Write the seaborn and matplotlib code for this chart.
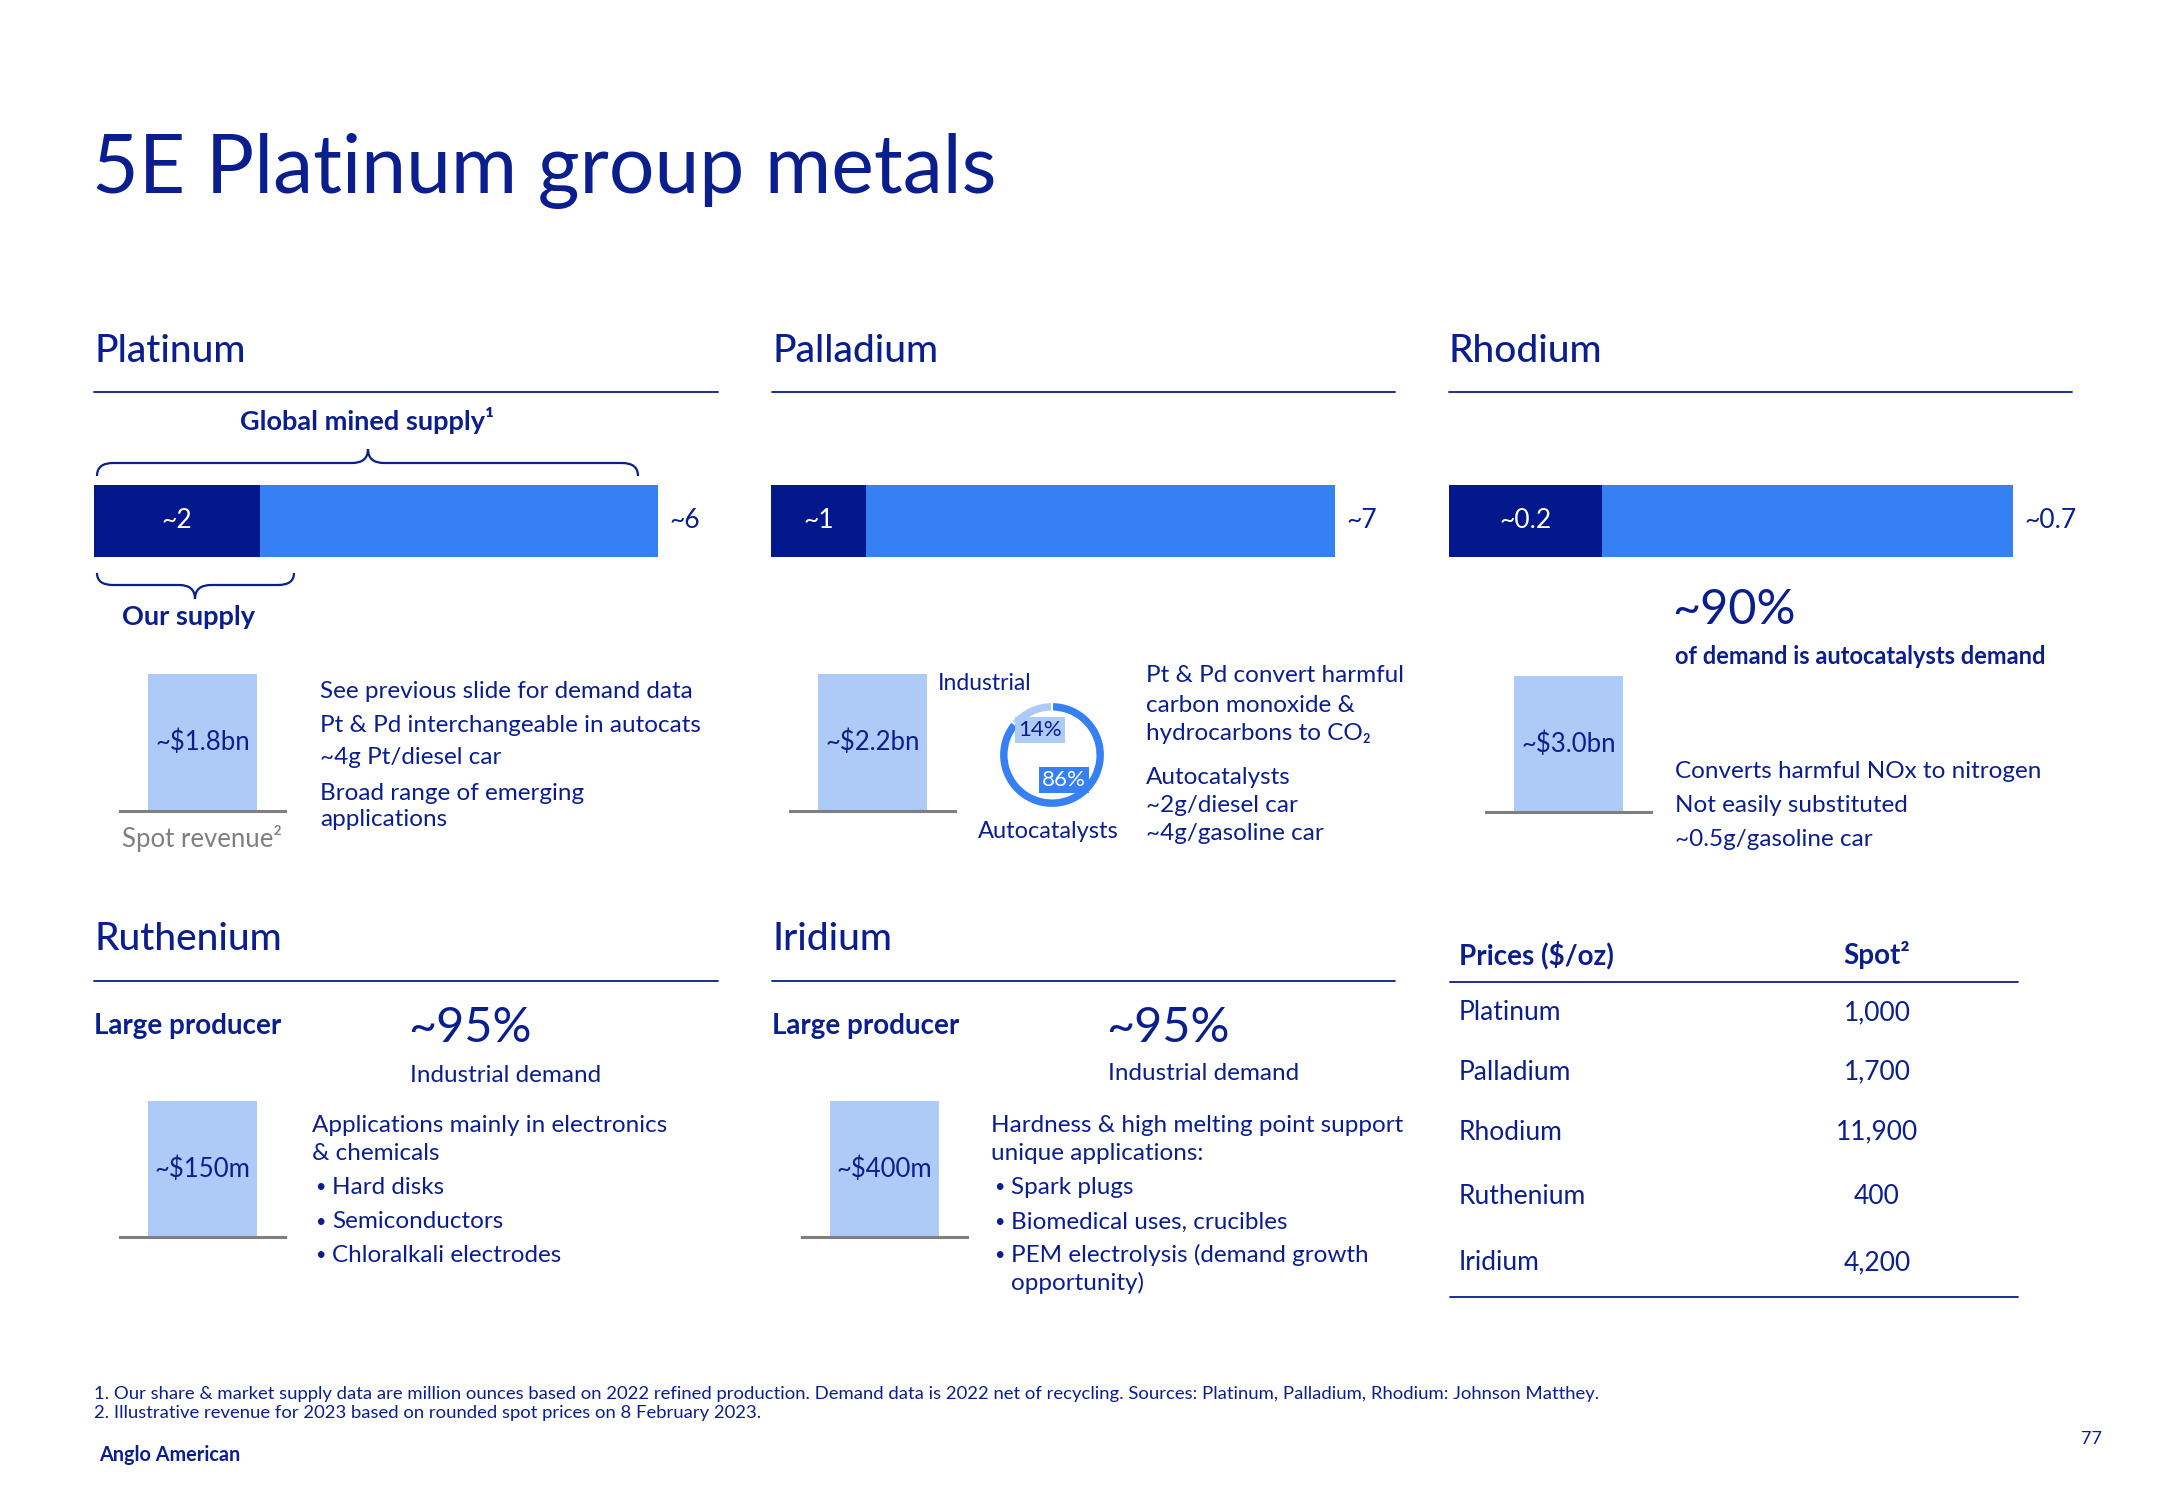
import matplotlib
matplotlib.use("Agg")
import matplotlib.pyplot as plt
from matplotlib.path import Path
from matplotlib.patches import PathPatch
import seaborn as sns

# ── DATA ───────────────────────────────────────────────────
supply_metals = ["Platinum", "Palladium", "Rhodium"]
our_supply = [1.77, 1.18, 0.19]          # million oz (bar lengths)
global_supply = [6.0, 7.0, 0.7]
our_supply_labels = ["~2", "~1", "~0.2"]
global_supply_labels = ["~6", "~7", "~0.7"]

revenue_metals = ["Platinum", "Palladium", "Rhodium", "Ruthenium", "Iridium"]
revenue_labels = ["~$1.8bn", "~$2.2bn", "~$3.0bn", "~$150m", "~$400m"]

pd_demand_parts = ["Industrial", "Autocatalysts"]
pd_demand_share = [14, 86]

price_metals = ["Platinum", "Palladium", "Rhodium", "Ruthenium", "Iridium"]
spot_prices = [1000, 1700, 11900, 400, 4200]

platinum_notes = ["See previous slide for demand data",
                  "Pt & Pd interchangeable in autocats",
                  "~4g Pt/diesel car",
                  "Broad range of emerging",
                  "applications"]
palladium_notes = ["Pt & Pd convert harmful", "carbon monoxide &",
                   "hydrocarbons to CO\u2082", "Autocatalysts",
                   "~2g/diesel car", "~4g/gasoline car"]
rhodium_notes = ["Converts harmful NOx to nitrogen",
                 "Not easily substituted",
                 "~0.5g/gasoline car"]
ruthenium_notes = ["Applications mainly in electronics", "& chemicals"]
ruthenium_bullets = ["Hard disks", "Semiconductors", "Chloralkali electrodes"]
iridium_notes = ["Hardness & high melting point support", "unique applications:"]
iridium_bullets = ["Spark plugs", "Biomedical uses, crucibles",
                   "PEM electrolysis (demand growth", "opportunity)"]

footnotes = ["1. Our share & market supply data are million ounces based on 2022 refined "
             "production. Demand data is 2022 net of recycling. Sources: Platinum, "
             "Palladium, Rhodium: Johnson Matthey.",
             "2. Illustrative revenue for 2023 based on rounded spot prices on 8 February 2023."]

# ── STYLE ──────────────────────────────────────────────────
NAVY = "#0B1E8E"
DARK = "#02188C"
BRIGHT = "#3580F3"
LIGHT = "#AECBF7"
GRAY = "#7F7F7F"
BODY = 17.5

sns.set_theme(style="white")
plt.rcParams["font.family"] = ["Lato", "DejaVu Sans"]

W, H = 2166, 1500
fig = plt.figure(figsize=(W / 100, H / 100), dpi=100)
fig.patch.set_facecolor("white")


def px_rect(x0, y0, x1, y1):
    return [x0 / W, 1 - y1 / H, (x1 - x0) / W, (y1 - y0) / H]


# overlay in pixel coordinates for text, rules and braces
canvas = fig.add_axes([0, 0, 1, 1], zorder=5)
canvas.set_xlim(0, W)
canvas.set_ylim(H, 0)
canvas.axis("off")


def txt(x, y, s, size=BODY, weight="normal", color=NAVY, ha="left", va="center"):
    canvas.text(x, y, s, fontsize=size, fontweight=weight, color=color, ha=ha, va=va)


def brace(x0, x1, y_end, y_mid, tip_x, tip_y, r=16):
    verts = [(x0, y_end), (x0, y_mid), (x0 + r, y_mid),
             (tip_x - r, y_mid), (tip_x, y_mid), (tip_x, tip_y),
             (tip_x, y_mid), (tip_x + r, y_mid),
             (x1 - r, y_mid), (x1, y_mid), (x1, y_end)]
    codes = [Path.MOVETO, Path.CURVE3, Path.CURVE3,
             Path.LINETO, Path.CURVE3, Path.CURVE3,
             Path.CURVE3, Path.CURVE3,
             Path.LINETO, Path.CURVE3, Path.CURVE3]
    canvas.add_patch(PathPatch(Path(verts, codes), fill=False, edgecolor=NAVY, lw=1.6))


# ── TITLE & SECTION HEADERS ────────────────────────────────
txt(92, 193, "5E Platinum group metals", size=58, va="baseline")

headers = [("Platinum", 94, 352, 718), ("Palladium", 772, 352, 1395),
           ("Rhodium", 1449, 352, 2072), ("Ruthenium", 94, 940, 718),
           ("Iridium", 772, 940, 1395)]
for name, x, y, x_end in headers:
    txt(x, y, name, size=28, weight="medium")
    line_y = 392 if y < 500 else 981
    canvas.plot([x, x_end], [line_y, line_y], color=NAVY, lw=1.3)

# ── SUPPLY BARS ────────────────────────────────────────────
bar_left = [94, 771, 1449]
bar_len = 564
for i, metal in enumerate(supply_metals):
    ax = fig.add_axes(px_rect(bar_left[i], 485, bar_left[i] + bar_len, 557))
    sns.barplot(x=[global_supply[i]], y=[metal], orient="h", color=BRIGHT,
                saturation=1, width=1, linewidth=0, ax=ax)
    sns.barplot(x=[our_supply[i]], y=[metal], orient="h", color=DARK,
                saturation=1, width=1, linewidth=0, ax=ax)
    ax.set_xlim(0, global_supply[i])
    ax.set_ylim(0.5, -0.5)
    ax.axis("off")
    ax.text(our_supply[i] / 2, 0, our_supply_labels[i], color="white",
            ha="center", va="center", fontsize=19)
    ax.annotate(global_supply_labels[i], xy=(global_supply[i], 0), xytext=(11, 0),
                textcoords="offset pixels", ha="left", va="center",
                fontsize=19, color=NAVY)

txt(367, 421, "Global mined supply\u00b9", size=19.5, weight="bold", ha="center")
brace(97, 638, 476, 463, 368, 449)
brace(97, 294, 573, 585, 195, 599)
txt(189, 617, "Our supply", size=19.5, weight="bold", ha="center")

# ── REVENUE BOXES ──────────────────────────────────────────
rev_boxes = [(120, 285, 674, 811), (790, 955, 674, 811), (1486, 1651, 676, 812),
             (120, 285, 1101, 1237), (802, 967, 1101, 1237)]
for metal, label, (x0, x1, y0, y1) in zip(revenue_metals, revenue_labels, rev_boxes):
    ax = fig.add_axes(px_rect(x0, y0, x1, y1))
    sns.barplot(x=[metal], y=[1.0], color=LIGHT, saturation=1, width=0.66,
                linewidth=0, ax=ax)
    ax.set_xlim(-0.5, 0.5)
    ax.set_ylim(0, 1)
    ax.set_xticks([])
    ax.set_yticks([])
    ax.set_xlabel("")
    ax.set_ylabel("")
    for side in ["top", "left", "right"]:
        ax.spines[side].set_visible(False)
    ax.spines["bottom"].set_color(GRAY)
    ax.spines["bottom"].set_linewidth(2.2)
    ax.patch.set_alpha(0)
    ax.text(0, 0.5, label, ha="center", va="center", fontsize=18.5, color=NAVY)

txt(202, 838, "Spot revenue\u00b2", size=18.5, color=GRAY, ha="center")

# ── PLATINUM NOTES ─────────────────────────────────────────
for s, y in zip(platinum_notes, [691, 725, 758, 793, 820]):
    txt(320, y, s)

# ── PALLADIUM DONUT ────────────────────────────────────────
cx, cy, r = 1052, 755, 54
dax = fig.add_axes(px_rect(cx - r, cy - r, cx + r, cy + r))
dax.pie(pd_demand_share, colors=[LIGHT, BRIGHT], startangle=90, counterclock=True,
        wedgeprops=dict(width=0.18, edgecolor="white", linewidth=1.5))
dax.set_xlim(-1.02, 1.02)
dax.set_ylim(-1.02, 1.02)
txt(938, 683, pd_demand_parts[0], size=16.5)
txt(1048, 832, pd_demand_parts[1], size=17, ha="center")
canvas.text(1040, 730, f"{pd_demand_share[0]}%", fontsize=16, color=NAVY,
            ha="center", va="center",
            bbox=dict(boxstyle="square,pad=0.15", facecolor=LIGHT, edgecolor="none"))
canvas.text(1064, 780, f"{pd_demand_share[1]}%", fontsize=16, color="white",
            ha="center", va="center",
            bbox=dict(boxstyle="square,pad=0.15", facecolor=BRIGHT, edgecolor="none"))

for s, y in zip(palladium_notes, [676, 705, 733, 778, 806, 834]):
    txt(1146, y, s)

# ── RHODIUM ────────────────────────────────────────────────
txt(1672, 610, "~90%", size=35)
txt(1675, 657, "of demand is autocatalysts demand", size=17, weight="bold")
for s, y in zip(rhodium_notes, [772, 805, 839]):
    txt(1675, y, s)

# ── RUTHENIUM ──────────────────────────────────────────────
txt(94, 1026, "Large producer", size=20, weight="bold")
txt(408, 1028, "~95%", size=35)
txt(410, 1075, "Industrial demand", size=BODY)
for s, y in zip(ruthenium_notes, [1125, 1153]):
    txt(312, y, s)
for s, y in zip(ruthenium_bullets, [1187, 1222, 1255]):
    txt(315, y, "\u2022", size=13)
    txt(332, y, s)

# ── IRIDIUM ────────────────────────────────────────────────
txt(772, 1026, "Large producer", size=20, weight="bold")
txt(1106, 1028, "~95%", size=35)
txt(1108, 1073, "Industrial demand", size=BODY)
for s, y in zip(iridium_notes, [1126, 1154]):
    txt(991, y, s)
for j, (s, y) in enumerate(zip(iridium_bullets, [1187, 1222, 1255, 1283])):
    if j < 3:
        txt(994, y, "\u2022", size=13)
    txt(1011, y, s)

# ── PRICE TABLE ────────────────────────────────────────────
txt(1459, 955, "Prices ($/oz)", size=20, weight="bold")
txt(1877, 955, "Spot\u00b2", size=20, weight="bold", ha="center")
canvas.plot([1450, 2018], [982, 982], color=NAVY, lw=1.3)
row_y = [1013, 1072, 1132, 1196, 1263]
for metal, price, y in zip(price_metals, spot_prices, row_y):
    txt(1459, y, metal, size=19)
    txt(1877, y, f"{price:,}", size=19, ha="center")
canvas.plot([1450, 2018], [1297, 1297], color=NAVY, lw=1.3)

# ── FOOTER ─────────────────────────────────────────────────
txt(94, 1394, footnotes[0], size=13.3)
txt(94, 1413, footnotes[1], size=13.3)
txt(99, 1455, "Anglo American", size=14.3, weight="bold")
txt(2092, 1439, "77", size=13, ha="center")

fig.savefig("out.png", dpi=100, facecolor="white")
